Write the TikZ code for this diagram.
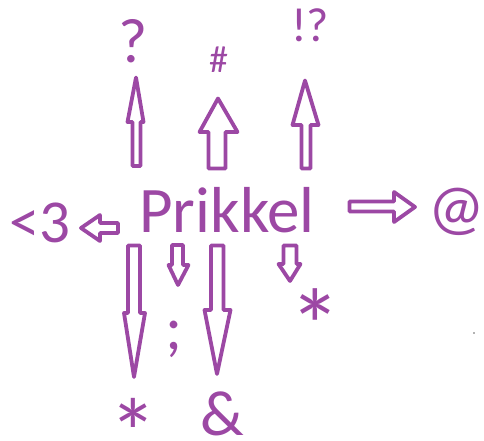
\documentclass[tikz,border=0pt]{standalone}
\usepackage{fontspec}
\setmainfont{Carlito}
\definecolor{prk}{RGB}{156,72,164}
\begin{document}
\begin{tikzpicture}[x=1pt,y=-1pt,
  lbl/.style={inner sep=0pt, outer sep=0pt, anchor=base, text=prk},
  blk/.style={draw=prk, line width=3.8pt, line join=round, fill=white},
  fs/.style={font=\fontsize{#1}{#1}\selectfont}]
\useasboundingbox (0,0) rectangle (484,441);
% texts
\node[lbl, fs=63] (q)  at (133,63) {?};
\node[lbl, fs=38] (h)  at (218.5,73) {\#};
\node[lbl, fs=48] (eq) at (310,42) {!?};
\node[lbl, fs=61] (ht) at (40,242) {<3};
\node[lbl, fs=65] (pr) at (227,232) {Prikkel};
\node[lbl, fs=63] (at) at (457,228) {@};
\node[lbl, fs=104] (s1) at (315,318) {\raisebox{-0.43em}[0.26em][0pt]{*}};
\node[lbl, fs=64] (sc) at (174,349) {;};
\node[lbl, fs=96] (s2) at (133,425) {\raisebox{-0.43em}[0.26em][0pt]{*}};
\node[lbl, fs=64] (am) at (222,435) {\&};
% up arrows
\draw[blk] (132.5,166) -- (132.5,122) -- (127.5,122) -- (136,77.5) -- (143.5,122) -- (140.5,122) -- (140.5,166) -- cycle;
\draw[blk] (208.5,168.5) -- (208.5,132) -- (199.5,132) -- (218,98.5) -- (237.5,132) -- (225.5,132) -- (225.5,168.5) -- cycle;
\draw[blk] (301.5,168.5) -- (301.5,125) -- (292.5,125) -- (305,80.5) -- (318.5,125) -- (310.5,125) -- (310.5,168.5) -- cycle;
% left arrow
\draw[blk] (118,223) -- (100,223) -- (100,215) -- (81,228) -- (100,241) -- (100,233) -- (118,233) -- cycle;
% right arrow
\draw[blk] (349.5,201.5) -- (394,201.5) -- (394,192) -- (415,207) -- (394,222) -- (394,211.5) -- (349.5,211.5) -- cycle;
% down arrows
\draw[blk] (128,245.5) -- (128,313) -- (124,313) -- (134,377) -- (145,313) -- (140,313) -- (140,245.5) -- cycle;
\draw[blk] (172,245) -- (172,265) -- (168.5,265) -- (178,285) -- (188.5,265) -- (183,265) -- (183,245) -- cycle;
\draw[blk] (211,245.5) -- (211,310) -- (204.5,310) -- (217,374) -- (230.5,310) -- (223.5,310) -- (223.5,245.5) -- cycle;
\draw[blk] (283.5,245.5) -- (283.5,264) -- (278.5,264) -- (290,281) -- (300.5,264) -- (296.5,264) -- (296.5,245.5) -- cycle;
% speck
\fill[black!60] (474,333) circle (0.8);
\end{tikzpicture}
\end{document}
